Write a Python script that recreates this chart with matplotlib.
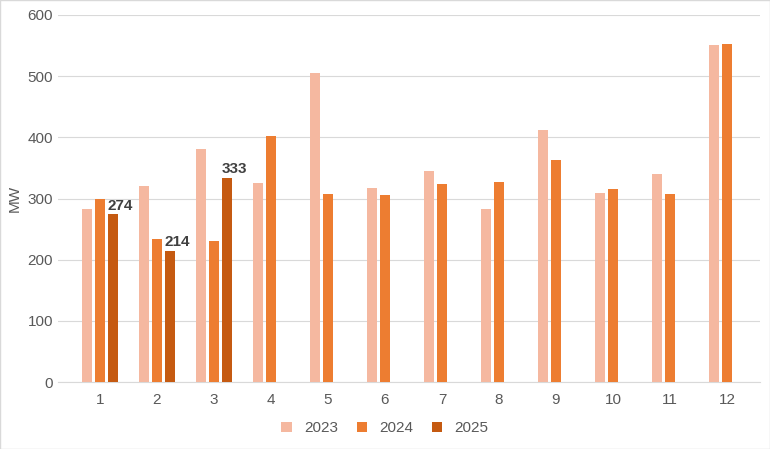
import matplotlib
matplotlib.use("Agg")
import matplotlib.pyplot as plt
import numpy as np

plt.rcParams["font.family"] = "Liberation Sans"

months = ["1","2","3","4","5","6","7","8","9","10","11","12"]
v2023 = [283, 320, 381, 325, 505, 317, 345, 283, 412, 309, 340, 551]
v2024 = [299, 234, 230, 402, 307, 306, 324, 327, 363, 316, 307, 553]
v2025 = [274, 214, 333]
series_names = ["2023", "2024", "2025"]
colors = ["#F5B8A0", "#ED7D31", "#C55A11"]

fig = plt.figure(figsize=(7.70, 4.49), dpi=100)
ax = fig.add_axes([58/770, 1-382/449, 702/770, 367/449])
x = np.arange(len(months))
w = 0.175
ax.bar(x - 0.22, v2023, w, color=colors[0], label=series_names[0], zorder=3)
ax.bar(x, v2024, w, color=colors[1], label=series_names[1], zorder=3)
ax.bar(x[:len(v2025)] + 0.22, v2025, w, color=colors[2], label=series_names[2], zorder=3)
for xi, v in zip(x[:len(v2025)] + 0.22, v2025):
    ax.text(xi - 0.08, v + 3, str(v), fontsize=11, fontweight="bold", color="#404040",
            ha="left", va="bottom", zorder=4)
ax.set_xlim(-0.737, 11.58)
ax.set_ylim(0, 600)
ax.set_yticks(range(0, 601, 100))
ax.set_xticks(x)
ax.set_xticklabels(months)
ax.grid(axis="y", color="#D9D9D9", lw=0.8, zorder=0)
for s in ["top", "right", "left"]:
    ax.spines[s].set_visible(False)
ax.spines["bottom"].set_color("#D9D9D9")
ax.tick_params(length=0, labelsize=11, colors="#595959")
ax.tick_params(axis="x", pad=8)
ax.set_ylabel("MW", fontsize=11, color="#595959")
fig.legend(loc="lower center", ncol=3, frameon=False, fontsize=11,
           bbox_to_anchor=(0.5, 0.0), handlelength=0.7, handleheight=0.7,
           columnspacing=1.2, labelcolor="#595959")
fig.patches.append(plt.Rectangle((0, 0), 1, 1, transform=fig.transFigure,
                                 fill=False, edgecolor="#D9D9D9", lw=1))
fig.savefig("out.png", dpi=100)
